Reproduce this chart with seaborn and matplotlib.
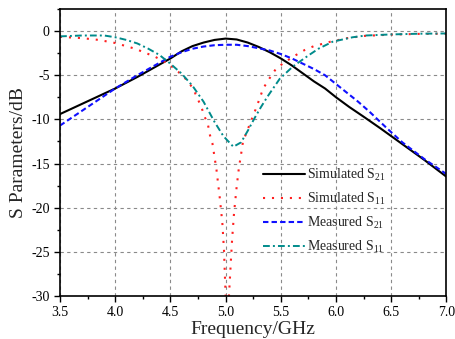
import numpy as np
import pandas as pd
import matplotlib
matplotlib.use("Agg")
import matplotlib.pyplot as plt
from matplotlib.ticker import MultipleLocator, FormatStrFormatter
import seaborn as sns

# ---- data ----
sim_s21_f = [3.5, 3.75, 4.0, 4.2, 4.4, 4.5, 4.6, 4.7, 4.8, 4.9, 5.0, 5.1, 5.2, 5.3, 5.4,
             5.5, 5.6, 5.7, 5.8, 5.9, 6.0, 6.12, 6.25, 6.4, 6.6, 6.8, 7.0]
sim_s21_v = [-9.4, -7.95, -6.5, -5.2, -3.8, -3.1, -2.3, -1.7, -1.3, -1.0, -0.85, -0.95, -1.3,
             -1.8, -2.4, -3.1, -3.9, -4.8, -5.7, -6.5, -7.5, -8.6, -9.7, -11.0, -12.8, -14.6, -16.5]

sim_s11_f = [3.5, 3.7, 3.85, 4.0, 4.18, 4.36, 4.48, 4.57, 4.645, 4.705, 4.78, 4.81, 4.84,
             4.856, 4.88, 4.89, 4.917, 4.947, 4.97, 4.985, 5.0, 5.015, 5.03, 5.044, 5.058,
             5.076, 5.10, 5.12, 5.148, 5.157, 5.22, 5.28, 5.34, 5.40, 5.46, 5.55, 5.625,
             5.715, 5.8, 5.95, 6.1, 6.25, 6.5, 6.75, 7.0]
sim_s11_v = [-0.65, -0.8, -1.0, -1.35, -2.0, -2.9, -3.7, -4.6, -5.5, -6.5, -8.6, -9.7, -10.6,
             -11.7, -12.7, -13.5, -15.7, -18.9, -21.7, -24.8, -30.0, -34.0, -30.0, -26.8, -23.7,
             -20.6, -17.6, -15.5, -13.3, -12.5, -10.5, -8.6, -6.5, -5.3, -4.2, -3.4, -2.8,
             -2.15, -1.7, -1.2, -0.8, -0.55, -0.4, -0.32, -0.3]

meas_s21_f = [3.5, 3.75, 4.0, 4.2, 4.4, 4.5, 4.6, 4.7, 4.8, 4.9, 5.0, 5.1, 5.2, 5.3, 5.4,
              5.5, 5.6, 5.7, 5.8, 5.9, 6.0, 6.1, 6.2, 6.3, 6.46, 6.6, 6.8, 7.0]
meas_s21_v = [-10.7, -8.6, -6.5, -5.0, -3.6, -2.9, -2.4, -2.0, -1.75, -1.6, -1.55, -1.55, -1.7,
              -1.95, -2.2, -2.6, -3.1, -3.7, -4.3, -5.0, -6.0, -7.0, -8.0, -9.1, -11.0, -12.6,
              -14.5, -16.2]

meas_s11_f = [3.5, 3.7, 3.9, 4.0, 4.1, 4.2, 4.3, 4.4, 4.5, 4.6, 4.7, 4.8, 4.9, 4.98, 5.07,
              5.14, 5.2, 5.26, 5.32, 5.38, 5.49, 5.61, 5.745, 5.84, 5.97, 6.06, 6.15, 6.27,
              6.5, 6.75, 7.0]
meas_s11_v = [-0.6, -0.5, -0.5, -0.7, -1.0, -1.4, -2.0, -2.7, -3.7, -4.8, -6.2, -8.0, -10.3,
              -11.9, -13.1, -12.6, -11.3, -9.9, -8.6, -7.4, -5.4, -4.0, -2.8, -2.0, -1.2,
              -0.95, -0.7, -0.5, -0.38, -0.3, -0.27]

labels = ["Simulated S$_{21}$", "Simulated S$_{11}$", "Measured S$_{21}$", "Measured S$_{11}$"]

# ---- style ----
sns.set_style("ticks")
plt.rcParams["font.family"] = ["Liberation Serif", "DejaVu Serif"]
plt.rcParams["mathtext.fontset"] = "custom"
plt.rcParams["mathtext.rm"] = "Liberation Serif"
plt.rcParams["mathtext.it"] = "Liberation Serif:italic"
plt.rcParams["mathtext.default"] = "regular"
plt.rcParams["axes.unicode_minus"] = False

fig = plt.figure(figsize=(4.56, 3.39), dpi=100)
ax = fig.add_axes([60 / 456, 43 / 339, 386.5 / 456, 287 / 339])

series = [
    (sim_s21_f, sim_s21_v, "black", "-", 1.5),
    (sim_s11_f, sim_s11_v, "#ff2020", (0, (1, 3.3)), 1.5),
    (meas_s21_f, meas_s21_v, "#1010ff", (0, (2.6, 1.5)), 1.5),
    (meas_s11_f, meas_s11_v, "#008b8b", (0, (3.5, 1.6, 1.0, 1.6)), 1.4),
]
for (f, v, c, ls, lw), lab in zip(series, labels):
    df = pd.DataFrame({"f": f, "v": v})
    sns.lineplot(data=df, x="f", y="v", ax=ax, color=c, linestyle=ls, lw=lw,
                 label=lab, estimator=None)

ax.set_xlim(3.5, 7.0)
ax.set_ylim(-30, 2.5)
ax.xaxis.set_major_locator(MultipleLocator(0.5))
ax.xaxis.set_minor_locator(MultipleLocator(0.25))
ax.yaxis.set_major_locator(MultipleLocator(5))
ax.yaxis.set_minor_locator(MultipleLocator(2.5))
ax.xaxis.set_major_formatter(FormatStrFormatter("%.1f"))
ax.yaxis.set_major_formatter(FormatStrFormatter("%d"))

ax.grid(True, which="major", linestyle=(0, (3, 3)), color="#8a8a8a", lw=0.8)
ax.set_axisbelow(True)
ax.tick_params(which="both", direction="out", top=False, right=False, labelsize=10,
               colors="black", width=1.0)
ax.tick_params(which="major", length=4)
ax.tick_params(which="minor", length=2.5)
for sp in ax.spines.values():
    sp.set_visible(True)
    sp.set_linewidth(1.2)
    sp.set_color("black")

ax.set_xlabel("Frequency/GHz", fontsize=14, labelpad=1)
ax.set_ylabel("S Parameters/dB", fontsize=14, labelpad=3)

leg = ax.legend(loc="upper left", bbox_to_anchor=(0.497, 0.487), frameon=False,
                fontsize=10, handlelength=3.0, handletextpad=0.12, labelspacing=0.55,
                borderpad=0.3)

fig.savefig("out.png", dpi=100)
